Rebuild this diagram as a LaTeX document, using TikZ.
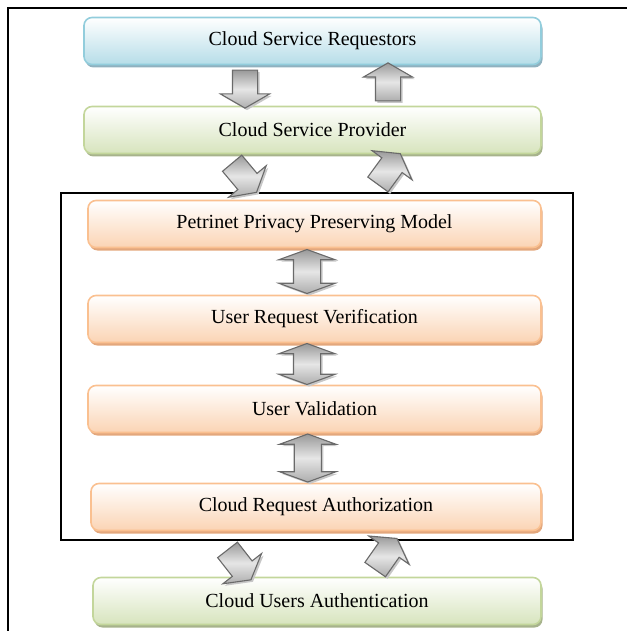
\documentclass[tikz,border=0pt]{standalone}
\usepackage{fontspec}
\setmainfont{Liberation Serif}
\usetikzlibrary{shapes.arrows, shadows, calc}
\definecolor{reqedge}{HTML}{92CDDC}
\definecolor{reqbg}{HTML}{B6DDE8}
\definecolor{reqshade}{HTML}{8FB1BF}
\definecolor{provedge}{HTML}{C3D69B}
\definecolor{provbg}{HTML}{D7E4BD}
\definecolor{provshade}{HTML}{A7B38C}
\definecolor{layeredge}{HTML}{FAC090}
\definecolor{layerbg}{HTML}{FBD4B4}
\definecolor{layershade}{HTML}{E3A77C}
\definecolor{arrowedge}{HTML}{6A6A6A}
\definecolor{arrowdark}{HTML}{999999}
\definecolor{arrowlight}{HTML}{E6E6E6}
\tikzset{
  box/.style={
    rounded corners=8pt,
    line width=1.6pt,
    align=center,
    inner sep=0pt,
    minimum height=47pt,
    font=\fontsize{20}{24}\selectfont
  },
  requestor/.style={box, draw=reqedge, top color=white, bottom color=reqbg,
    general shadow={fill=reqshade, shadow xshift=1.5pt, shadow yshift=-3pt}},
  provider/.style={box, draw=provedge, top color=white, bottom color=provbg,
    general shadow={fill=provshade, shadow xshift=1.5pt, shadow yshift=-3pt}},
  layer/.style={box, draw=layeredge, top color=white, bottom color=layerbg,
    general shadow={fill=layershade, shadow xshift=1.5pt, shadow yshift=-3pt}},
  fatarrow/.style={single arrow, draw=arrowedge, line width=1.1pt,
    top color=arrowdark, bottom color=arrowdark!80, middle color=arrowlight,
    inner xsep=0pt, inner ysep=12pt,
    minimum width=48pt, minimum height=38pt,
    single arrow head extend=12pt, single arrow tip angle=120,
    general shadow={fill=black!22, shadow xshift=2pt, shadow yshift=-2pt}},
  twinarrow/.style={double arrow, draw=arrowedge, line width=1.1pt,
    top color=arrowdark, bottom color=arrowdark!80, middle color=arrowlight,
    inner xsep=0pt, inner ysep=13pt,
    minimum width=55pt, double arrow head extend=14.5pt,
    double arrow tip angle=140, rotate=90,
    general shadow={fill=black!22, shadow xshift=2pt, shadow yshift=-2pt}},
  frame/.style={draw=black, line width=1.4pt}
}

\begin{document}
\begin{tikzpicture}[x=1pt, y=-1pt]
\useasboundingbox (0,0) rectangle (627,631);

% outer border (top and left only)
\draw[frame, line width=2pt] (8,631) -- (8,8) -- (627,8);

% boxes
\node[requestor, minimum width=457pt] (req) at (312.5,41) {Cloud Service Requestors};
\node[provider, minimum width=457pt] (prov) at (312.5,130) {Cloud Service Provider};

\draw[frame] (61,193) rectangle (573,540);

\node[layer, minimum width=453pt] (petri) at (314.5,224) {Petrinet Privacy Preserving Model};
\node[layer, minimum width=453pt] (verif) at (314.5,319) {User Request Verification};
\node[layer, minimum width=453pt] (valid) at (314.5,409) {User Validation};
\node[layer, minimum width=450pt] (authz) at (316,507) {Cloud Request Authorization};
\node[provider, minimum width=448pt] (authn) at (317,601) {Cloud Users Authentication};

% block arrows
\node[fatarrow, rotate=270] (reqdown) at ($(req.south)!0.5!(prov.north)+(-67.5,0)$) {};
\node[fatarrow, rotate=90] (provup) at ($(req.south)!0.5!(prov.north)+(75.5,0)$) {};
\node[fatarrow, rotate=310] (provdown) at ($(prov.south)!0.5!(petri.north)+(-71.5,-2)$) {};
\node[fatarrow, rotate=54] (petriup) at ($(prov.south)!0.5!(petri.north)+(73.5,-5)$) {};

\node[twinarrow, minimum height=44pt] (petriverif) at ($(petri.south)!0.5!(verif.north)+(-7.5,0)$) {};
\node[twinarrow, minimum height=41pt] (verifvalid) at ($(verif.south)!0.5!(valid.north)+(-7.5,0)$) {};
\node[twinarrow, minimum height=48pt] (validauthz) at ($(valid.south)!0.5!(authz.north)+(-7.5,0)$) {};

\node[fatarrow, rotate=308] (authzdown) at ($(authz.south)!0.5!(authn.north)+(-79.5,8)$) {};
\node[fatarrow, rotate=55] (authnup) at ($(authz.south)!0.5!(authn.north)+(67.5,3)$) {};

\end{tikzpicture}
\end{document}
